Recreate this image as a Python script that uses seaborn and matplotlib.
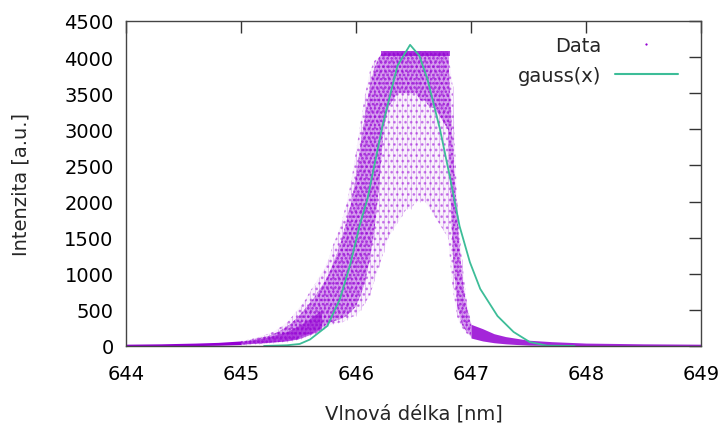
import numpy as np
import pandas as pd
import matplotlib
matplotlib.use('Agg')
import matplotlib.pyplot as plt
from matplotlib.lines import Line2D
import seaborn as sns

col_x = [645.00, 645.04, 645.08, 645.12, 645.16, 645.20, 645.24, 645.28, 645.32, 645.36,
         645.40, 645.44, 645.48, 645.52, 645.56, 645.60, 645.64, 645.68, 645.72, 645.76,
         645.80, 645.84, 645.88, 645.92, 645.96, 646.00, 646.04, 646.08, 646.12, 646.16,
         646.20, 646.24, 646.28, 646.32, 646.36, 646.40, 646.44, 646.48, 646.52, 646.56,
         646.60, 646.64, 646.68, 646.72, 646.76, 646.80, 646.84, 646.88, 646.92, 646.96,
         647.00]
col_lo = [20, 20, 25, 30, 30, 35, 40, 45, 50, 55,
          60, 70, 80, 100, 120, 140, 160, 200, 240, 280,
          300, 320, 330, 360, 400, 420, 500, 600, 700, 900,
          1100, 1300, 1500, 1600, 1700, 1800, 1900, 1900, 2000, 2000,
          2000, 1900, 1800, 1700, 1600, 1500, 800, 400, 250, 180,
          120]
col_hi = [70, 80, 90, 110, 130, 150, 170, 200, 240, 280,
          330, 400, 480, 560, 640, 760, 850, 960, 1060, 1200,
          1400, 1550, 1750, 2000, 2300, 2700, 3100, 3500, 3800, 3950,
          4000, 4080, 4080, 4080, 4080, 4080, 4080, 4080, 4080, 4080,
          4080, 4080, 4080, 4080, 4080, 4080, 3600, 2000, 1200, 650,
          320]
core_lo = [25, 25, 30, 35, 35, 40, 45, 50, 55, 60,
           70, 80, 90, 130, 150, 170, 190, 230, 270, 310,
           340, 360, 380, 420, 480, 550, 700, 900, 1200, 1600,
           2200, 3000, 3300, 3400, 3500, 3500, 3500, 3500, 3500, 3400,
           3400, 3300, 3300, 3200, 3100, 3000, 1300, 550, 300, 200,
           130]
core_hi = [65, 70, 80, 95, 110, 125, 140, 165, 195, 230,
           270, 320, 380, 450, 520, 600, 680, 780, 870, 980,
           1150, 1300, 1500, 1750, 2000, 2350, 2800, 3200, 3600, 3850,
           4000, 4080, 4080, 4080, 4080, 4080, 4080, 4080, 4080, 4080,
           4080, 4080, 4080, 4080, 4080, 4080, 2800, 1800, 1000, 550,
           300]

# darkest low part on the rising side
low_x = [645.0, 645.2, 645.4, 645.5, 645.6, 645.7]
low_lo = [25, 45, 70, 100, 160, 230]
low_hi = [60, 110, 200, 280, 380, 500]

# saturated detector level at the top of the peak
sat_x = [646.22, 646.82]
sat_lo = [4010, 4010]
sat_hi = [4080, 4080]

# flat parts on both sides
base_x = [644.0, 644.3, 644.6, 644.8, 645.0]
base_lo = [0, 0, 5, 10, 20]
base_hi = [25, 30, 40, 50, 70]
tail_x = [647.0, 647.1, 647.2, 647.3, 647.4, 647.5, 647.7, 648.0, 648.5, 649.0]
tail_lo = [110, 70, 45, 30, 20, 12, 8, 4, 0, 0]
tail_hi = [300, 240, 170, 130, 105, 80, 60, 40, 30, 25]

# fitted gaussian
gx = [645.2, 645.4, 645.51, 645.6, 645.75, 645.86, 645.95, 646.03, 646.1, 646.23,
      646.36, 646.47, 646.55, 646.62, 646.73, 646.82, 646.9, 646.99, 647.08, 647.23,
      647.37, 647.51, 647.66, 647.9]
gy = [0, 10, 28, 90, 277, 650, 1130, 1660, 2040, 3050,
      3880, 4170, 4020, 3700, 3000, 2310, 1660, 1160, 790, 415,
      194, 55, 5, 0]

purple = '#9400d3'
teal = '#3dbd98'

sns.set_theme(style='white')
plt.rcParams['font.family'] = ['DejaVu Sans']
plt.rcParams['hatch.linewidth'] = 1.2

fig = plt.figure(figsize=(7.25, 4.27), dpi=100)
ax = fig.add_axes([0.1738, 0.1874, 0.7932, 0.7611])

ax.fill_between(base_x, base_lo, base_hi, color=purple, lw=0)
ax.fill_between(tail_x, tail_lo, tail_hi, color=purple, lw=0, alpha=0.85)
# sparse cloud of points
ax.fill_between(col_x, col_lo, col_hi, facecolor=(0.58, 0, 0.83, 0.05),
                edgecolor=(0.58, 0, 0.83, 0.45), hatch='...', lw=0)
ax.vlines(col_x, col_lo, col_hi, color=purple, lw=0.6, alpha=0.25)
# dense part of the cloud
ax.fill_between(col_x, core_lo, core_hi, facecolor=(0.58, 0, 0.83, 0.35),
                edgecolor=(0.58, 0, 0.83, 0.75), hatch='....', lw=0)
ax.fill_between(low_x, low_lo, low_hi, color=purple, lw=0, alpha=0.6)
ax.fill_between(sat_x, sat_lo, sat_hi, color=purple, lw=0, alpha=0.7)

gauss = pd.DataFrame({'x': gx, 'y': gy})
sns.lineplot(data=gauss, x='x', y='y', ax=ax, color=teal, lw=1.3)

ax.set_xlim(644, 649)
ax.set_ylim(0, 4500)
ax.set_xticks(range(644, 650))
ax.set_yticks(range(0, 4501, 500))
ax.tick_params(direction='in', length=8.5, width=1, colors='#333333',
               labelcolor='black', labelsize=14, top=True, right=True)
ax.tick_params(axis='y', pad=9)
ax.tick_params(axis='x', pad=13)
for s in ax.spines.values():
    s.set_color('#444444')
    s.set_linewidth(1)

ax.set_xlabel('Vlnová délka [nm]', fontsize=14, labelpad=15)
ax.set_ylabel('Intenzita [a.u.]', fontsize=14, labelpad=24)

handles = [Line2D([], [], marker='s', ms=0.6, ls='', color=purple),
           Line2D([], [], color=teal, lw=1.5)]
ax.legend(handles, ['Data', 'gauss(x)'], markerfirst=False, frameon=False,
          loc='upper right', bbox_to_anchor=(0.948, 0.936),
          bbox_transform=fig.transFigure, fontsize=14, handlelength=3.2,
          borderpad=0, labelspacing=0.55, handletextpad=0.7)

fig.savefig('out.png', dpi=100)
